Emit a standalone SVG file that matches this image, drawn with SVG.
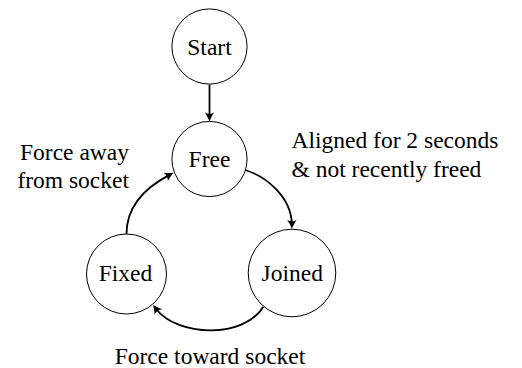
<svg xmlns="http://www.w3.org/2000/svg" width="522" height="368" viewBox="0 0 522 368">
<style>
.node circle{fill:#fff;stroke:#000;stroke-width:1}
text{font-family:"Liberation Serif","Times New Roman",serif;font-size:23.5px;fill:#000}
.c{text-anchor:middle}
.edge{fill:none;stroke:#000;stroke-width:1.8}
</style>
<defs>
<marker id="ah" markerUnits="userSpaceOnUse" markerWidth="14" markerHeight="14" viewBox="-10 -6 14 12" refX="-4" refY="0" orient="auto" overflow="visible">
<path d="M0,0 C-2.5,-1 -6,-2.8 -9,-4.8 C-7,-2 -7,2 -9,4.8 C-6,2.8 -2.5,1 0,0 Z" fill="#000"/>
</marker>
</defs>
<rect width="522" height="368" fill="#fff"/>
<g id="connectors">
<path class="edge" d="M209.5,84.5 L209.5,117.3" marker-end="url(#ah)"/>
<path class="edge" d="M245,170 C265,176 291.5,196 291.9,224.8" marker-end="url(#ah)"/>
<path class="edge" d="M263.3,306.7 C245,338 178,338 155.5,308.2" marker-end="url(#ah)"/>
<path class="edge" d="M126.5,234 C126.5,205 148,186 170,174.6" marker-end="url(#ah)"/>
</g>
<g id="start" class="node">
<circle cx="209.5" cy="46.5" r="37.6"/>
<text class="c" x="209.5" y="54.5">Start</text>
</g>
<g id="free" class="node">
<circle cx="209.5" cy="159" r="37.6"/>
<text class="c" x="209.5" y="167">Free</text>
</g>
<g id="joined" class="node">
<circle cx="292" cy="273" r="43.8"/>
<text class="c" x="292.3" y="281">Joined</text>
</g>
<g id="fixed" class="node">
<circle cx="126.5" cy="274" r="40"/>
<text class="c" x="125.5" y="281">Fixed</text>
</g>
<g id="labels">
<text x="291.5" y="148.3">Aligned for 2 seconds</text>
<text x="291.5" y="176.7">&amp; not recently freed</text>
<text x="129" y="160" text-anchor="end">Force away</text>
<text x="129" y="188.3" text-anchor="end">from socket</text>
<text class="c" x="210" y="364">Force toward socket</text>
</g>
</svg>
